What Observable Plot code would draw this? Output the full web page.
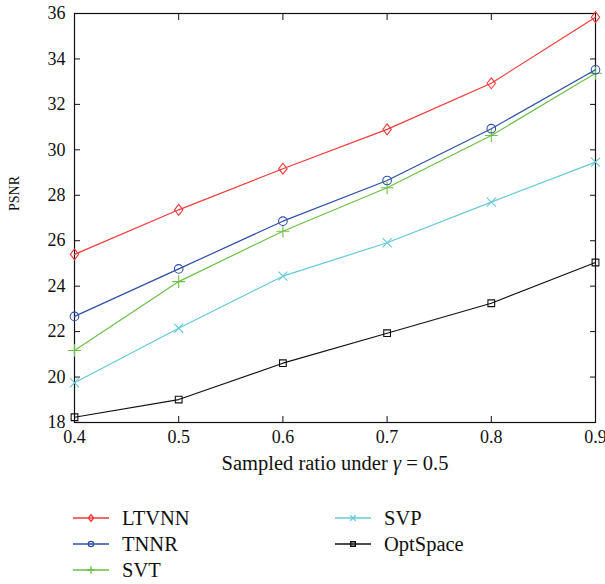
<!DOCTYPE html>
<html>
<head>
<meta charset="utf-8">
<script src="https://cdn.jsdelivr.net/npm/d3@7"></script>
<script src="https://cdn.jsdelivr.net/npm/@observablehq/plot@0.6"></script>
<style>
  html, body { margin: 0; padding: 0; background: #fff; }
  #chart { width: 605px; }
  #chart svg text { font-family: 'Liberation Serif', 'Times New Roman', serif; }
  #legend { position: relative; width: 605px; height: 94px; font-family: 'Liberation Serif', 'Times New Roman', serif; font-size: 20.5px; color: #111; }
  .item { position: absolute; height: 20px; display: flex; align-items: center; white-space: nowrap; }
  .item span { margin-left: 13px; }
</style>
</head>
<body>
<div id="chart"></div>
<div id="legend"></div>
<script>
const ratios = [0.4, 0.5, 0.6, 0.7, 0.8, 0.9];
const yTicks = [18, 20, 22, 24, 26, 28, 30, 32, 34, 36];
const seriesNames = ["LTVNN", "TNNR", "SVT", "SVP", "OptSpace"];
const seriesColors = ["#f03a3a", "#2f4fa8", "#6cbf45", "#66c8d8", "#111111"];
const ltvnn = [25.4, 27.36, 29.17, 30.9, 32.93, 35.84];
const tnnr = [22.67, 24.76, 26.86, 28.65, 30.93, 33.52];
const svt = [21.17, 24.2, 26.42, 28.33, 30.63, 33.37];
const svp = [19.75, 22.15, 24.44, 25.91, 27.7, 29.46];
const optspace = [18.23, 19.01, 20.61, 21.93, 23.25, 25.04];
const xLabel = "Sampled ratio under γ = 0.5";
const yLabel = "PSNR";

const tallDiamond = {
  draw(context, size) {
    const r = Math.sqrt(size / Math.PI);
    const h = r * 1.3, w = r;
    context.moveTo(0, -h); context.lineTo(w, 0); context.lineTo(0, h); context.lineTo(-w, 0); context.closePath();
  }
};
const symbols = [tallDiamond, "circle", "plus", "times", "square"];
const radii = [4.2, 4.3, 4.2, 4.2, 3.8];

const values = [ltvnn, tnnr, svt, svp, optspace];
const table = seriesNames.flatMap((name, i) => ratios.map((r, j) => ({series: name, ratio: r, psnr: values[i][j]})));

const marks = [];
seriesNames.slice().reverse().forEach((name) => {
  const i = seriesNames.indexOf(name);
  const d = table.filter(t => t.series === name);
  marks.push(Plot.line(d, {x: "ratio", y: "psnr", stroke: seriesColors[i], strokeWidth: 1.2}));
  marks.push(Plot.dot(d, {x: "ratio", y: "psnr", stroke: seriesColors[i], symbol: symbols[i], r: radii[i], fill: "none", strokeWidth: 1.1}));
});

const chart = Plot.plot({
  width: 605,
  height: 490,
  marginLeft: 74,
  marginRight: 10,
  marginTop: 13,
  marginBottom: 68,
  style: {fontFamily: "'Liberation Serif', 'Times New Roman', serif", fontSize: "18px", background: "#fff", color: "#111", overflow: "visible"},
  x: {domain: [0.4, 0.9]},
  y: {domain: [18, 36]},
  marks: [
    Plot.frame({stroke: "#111", strokeWidth: 1.2}),
    Plot.axisX({ticks: ratios, tickSize: 0, tickPadding: 8, tickFormat: d3.format(".1f"), label: null, fontSize: 18}),
    Plot.axisX({ticks: ratios, anchor: "bottom", tickSize: -6, tickFormat: () => "", label: null}),
    Plot.axisX({ticks: ratios, anchor: "top", tickSize: -6, tickFormat: () => "", label: null}),
    Plot.axisY({ticks: yTicks, tickSize: 0, tickPadding: 9, tickFormat: d3.format("d"), label: null, fontSize: 18}),
    Plot.axisY({ticks: yTicks, anchor: "left", tickSize: -6, tickFormat: () => "", label: null}),
    Plot.axisY({ticks: yTicks, anchor: "right", tickSize: -6, tickFormat: () => "", label: null}),
    Plot.text([xLabel], {text: d => d, frameAnchor: "bottom", dy: 47, fontSize: 20.5, fill: "#111"}),
    Plot.text([yLabel], {text: d => d, frameAnchor: "left", dx: -60, dy: -7, rotate: -90, fontSize: 14, fill: "#111"}),
    ...marks
  ]
});
document.getElementById("chart").appendChild(chart);

// italic gamma in x label
d3.select(chart).selectAll("text").each(function() {
  if (this.textContent === xLabel) {
    const sel = d3.select(this);
    sel.text(null);
    sel.append("tspan").text("Sampled ratio under ");
    sel.append("tspan").attr("font-style", "italic").text("γ");
    sel.append("tspan").text(" = 0.5");
  }
});

// legend
const legend = d3.select("#legend");
const positions = [[73, 28], [73, 54], [73, 80], [335, 28], [335, 54]];
seriesNames.forEach((name, i) => {
  const [x, y] = positions[i];
  const item = legend.append("div").attr("class", "item").style("left", x + "px").style("top", (y - 10) + "px");
  const svg = item.append("svg").attr("width", 36).attr("height", 20);
  svg.append("line").attr("x1", 0).attr("x2", 36).attr("y1", 10).attr("y2", 10).attr("stroke", seriesColors[i]).attr("stroke-width", 1.6);
  const sym = typeof symbols[i] === "string" ? {circle: d3.symbolCircle, plus: d3.symbolPlus, times: d3.symbolTimes, square: d3.symbolSquare}[symbols[i]] : symbols[i];
  svg.append("path").attr("transform", "translate(18,10)").attr("d", d3.symbol(sym, Math.PI * 2.6 * 2.6)()).attr("fill", "none").attr("stroke", seriesColors[i]).attr("stroke-width", 1.4);
  item.append("span").text(name);
});
</script>
</body>
</html>
